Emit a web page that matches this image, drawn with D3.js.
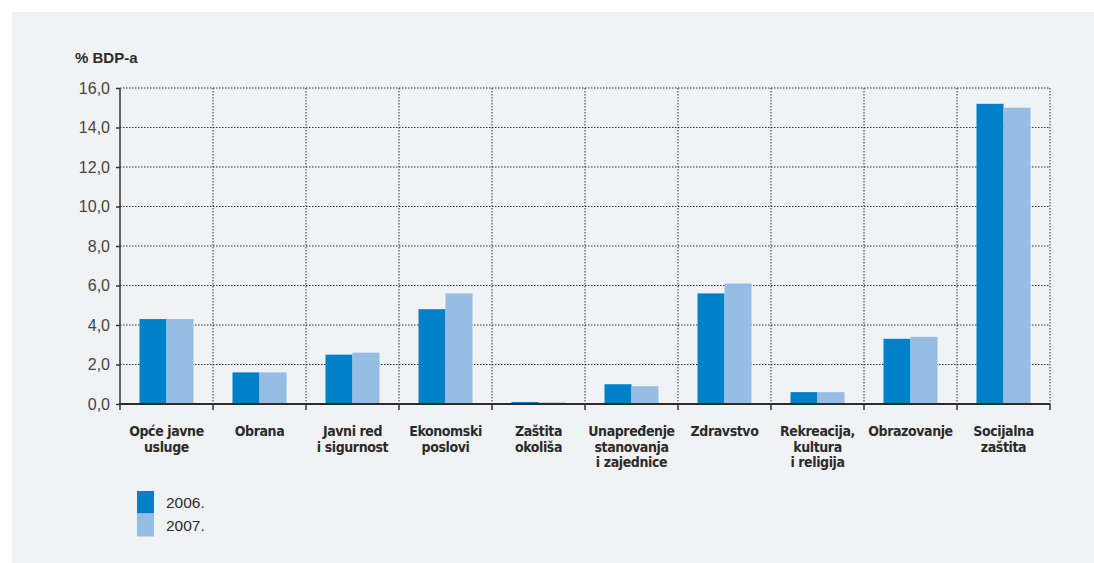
<!DOCTYPE html>
<html>
<head>
<meta charset="utf-8">
<script src="https://cdn.jsdelivr.net/npm/d3@7"></script>
<style>
  html, body { margin: 0; padding: 0; background: #ffffff; }
  svg { display: block; }
</style>
</head>
<body>
<div id="chart"></div>
<script>
// Data
const categories = [
  ["Opće javne", "usluge"],
  ["Obrana"],
  ["Javni red", "i sigurnost"],
  ["Ekonomski", "poslovi"],
  ["Zaštita", "okoliša"],
  ["Unapređenje", "stanovanja", "i zajednice"],
  ["Zdravstvo"],
  ["Rekreacija,", "kultura", "i religija"],
  ["Obrazovanje"],
  ["Socijalna", "zaštita"]
];
const seriesNames = ["2006.", "2007."];
const values2006 = [4.3, 1.6, 2.5, 4.8, 0.1, 1.0, 5.6, 0.6, 3.3, 15.2];
const values2007 = [4.3, 1.6, 2.6, 5.6, 0.08, 0.9, 6.1, 0.6, 3.4, 15.0];
const yTicks = [0, 2, 4, 6, 8, 10, 12, 14, 16];
const yTitle = "% BDP-a";

const W = 1094, H = 563;
const margin = { top: 88, right: 44, bottom: 159, left: 120 };
const width = W - margin.left - margin.right;
const height = H - margin.top - margin.bottom;
const colors = ["#0080c6", "#96bde4"];
const textColor = "#2b2b2b";
const labelFont = "'Liberation Sans Narrow', 'DejaVu Sans Condensed', 'Roboto Condensed', sans-serif";

const svg = d3.select("#chart").append("svg")
  .attr("width", W).attr("height", H);

svg.append("rect")
  .attr("x", 12).attr("y", 12)
  .attr("width", W - 12).attr("height", H - 12)
  .attr("fill", "#f1f2f4");

const g = svg.append("g")
  .attr("transform", `translate(${margin.left},${margin.top})`);

const idx = d3.range(categories.length);
const x = d3.scaleBand().domain(idx).range([0, width]).paddingInner(0).paddingOuter(0);
const xs = d3.scaleBand().domain(seriesNames).range([19.5, x.bandwidth() - 19.5]);
const y = d3.scaleLinear().domain([0, 16]).range([height, 0]);

// Horizontal grid
g.append("g")
  .selectAll("line")
  .data(yTicks.filter(d => d > 0))
  .join("line")
  .attr("x1", 0).attr("x2", width)
  .attr("y1", d => y(d)).attr("y2", d => y(d))
  .attr("stroke", "#333").attr("stroke-width", 1)
  .attr("stroke-dasharray", "1.5,1.5");

// Vertical grid at category boundaries
const bounds = idx.slice(1).map(i => x(i)).concat([width]);
g.append("g")
  .selectAll("line")
  .data(bounds)
  .join("line")
  .attr("x1", d => d).attr("x2", d => d)
  .attr("y1", 0).attr("y2", height)
  .attr("stroke", "#333").attr("stroke-width", 1)
  .attr("stroke-dasharray", "1.5,1.5");

// Bars
const series = [values2006, values2007];
series.forEach((vals, s) => {
  g.append("g")
    .selectAll("rect")
    .data(vals)
    .join("rect")
    .attr("x", (d, i) => x(i) + xs(seriesNames[s]))
    .attr("y", d => y(d))
    .attr("width", xs.bandwidth())
    .attr("height", d => y(0) - y(d))
    .attr("fill", colors[s]);
});

// Y axis
const yAxis = g.append("g")
  .call(d3.axisLeft(y).tickValues(yTicks).tickSize(4).tickPadding(6)
    .tickFormat(d => d3.format(".1f")(d).replace(".", ",")));
yAxis.select(".domain").attr("stroke", "#333").attr("stroke-width", 1.5)
  .attr("d", `M0,0V${height}`);
yAxis.selectAll(".tick line").attr("stroke", "#333").attr("stroke-width", 1.5);
yAxis.selectAll("text")
  .attr("fill", "#444")
  .style("font-family", "'Liberation Sans', Arial, sans-serif")
  .style("font-size", "16px");

// X axis line with ticks at boundaries
g.append("line")
  .attr("x1", -1).attr("x2", width)
  .attr("y1", height).attr("y2", height)
  .attr("stroke", "#2b2b2b").attr("stroke-width", 2);
g.append("g")
  .selectAll("line")
  .data([0].concat(bounds))
  .join("line")
  .attr("x1", d => d).attr("x2", d => d)
  .attr("y1", height).attr("y2", height + 6)
  .attr("stroke", "#333").attr("stroke-width", 1.5);

// Category labels
const labels = g.append("g")
  .selectAll("text")
  .data(categories)
  .join("text")
  .attr("x", (d, i) => x(i) + x.bandwidth() / 2)
  .attr("y", height + 32)
  .attr("text-anchor", "middle")
  .attr("fill", textColor)
  .style("font-family", labelFont)
  .style("font-weight", "bold")
  .style("font-size", "14px")
  .style("letter-spacing", "-0.4px");
labels.selectAll("tspan")
  .data((d, i) => d.map(t => ({ t, i })))
  .join("tspan")
  .attr("x", d => x(d.i) + x.bandwidth() / 2)
  .attr("dy", (d, j) => j === 0 ? 0 : 15.5)
  .text(d => d.t);

// Y title
svg.append("text")
  .attr("x", 75).attr("y", 63)
  .attr("fill", textColor)
  .style("font-family", "'Liberation Sans', Arial, sans-serif")
  .style("font-weight", "bold")
  .style("font-size", "15px")
  .text(yTitle);

// Legend
const legend = svg.append("g").attr("transform", "translate(137,491)");
seriesNames.forEach((name, s) => {
  legend.append("rect")
    .attr("x", 0).attr("y", s * 23)
    .attr("width", 17).attr("height", 22.5)
    .attr("fill", colors[s]);
  legend.append("text")
    .attr("x", 29).attr("y", s * 23 + 11.5)
    .attr("dy", "0.35em")
    .attr("fill", textColor)
    .style("font-family", "'Liberation Sans', Arial, sans-serif")
    .style("font-size", "15.5px")
    .text(name);
});
</script>
</body>
</html>
